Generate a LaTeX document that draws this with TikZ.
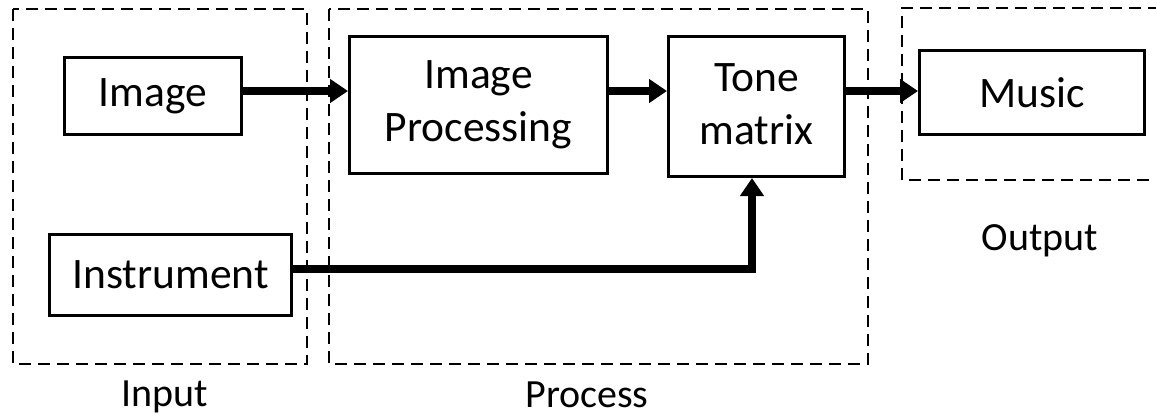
\documentclass[tikz,border=0pt]{standalone}
\usepackage{fontspec}
\setmainfont{Carlito}
\usetikzlibrary{arrows.meta}
\begin{document}
\begin{tikzpicture}[x=1pt, y={(0pt,-1pt)},
  stagebox/.style={draw=black, line width=1.4pt, dash pattern=on 12pt off 7pt},
  block/.style={draw=black, line width=3pt, fill=white, inner sep=0pt,
    align=center, font=\fontsize{43.5}{53}\selectfont},
  stagelabel/.style={anchor=base, inner sep=0pt, font=\fontsize{40}{48}\selectfont},
  flow/.style={line width=7.5pt, line join=miter,
    -{Triangle[length=18pt, width=23pt]}}]
\useasboundingbox (0,0) rectangle (1156,416);

% stage frames
\draw[stagebox] (13,9) rectangle (307,364);
\draw[stagebox] (329,9) rectangle (868,364);
\draw[stagebox] (1160,8) -- (902,8) -- (902,180) -- (1160,180);

% stage captions
\node[stagelabel] (lin)  at (165,406) {Input};
\node[stagelabel] (lproc) at (587,407) {Process};
\node[stagelabel] (lout) at (1040,250) {Output};

% blocks
\node[block, minimum width=177pt, minimum height=77pt] (img)   at (153,96)    {Image};
\node[block, minimum width=242pt, minimum height=81pt] (inst)  at (170.5,275) {Instrument};
\node[block, minimum width=258pt, minimum height=137pt] (proc) at (478.5,105) {\raisebox{-4pt}{Image}\\\raisebox{-4pt}{Processing}};
\node[block, minimum width=176pt, minimum height=140pt] (tone) at (756.5,106.5) {\raisebox{4pt}{Tone}\\\raisebox{4pt}{matrix}};
\node[block, minimum width=225pt, minimum height=84pt] (music) at (1032,92.5) {Music};

% routing helpers
\coordinate (row)  at (0,91);
\coordinate (irow) at (0,269);
\coordinate (icol) at (752,0);

% connectors
\draw[flow] (img.east |- row) -- (proc.west |- row);
\draw[flow] (proc.east |- row) -- (tone.west |- row);
\draw[flow] (tone.east |- row) -- (music.west |- row);
\draw[flow] (inst.east |- irow) -| (icol |- tone.south);
\end{tikzpicture}
\end{document}
